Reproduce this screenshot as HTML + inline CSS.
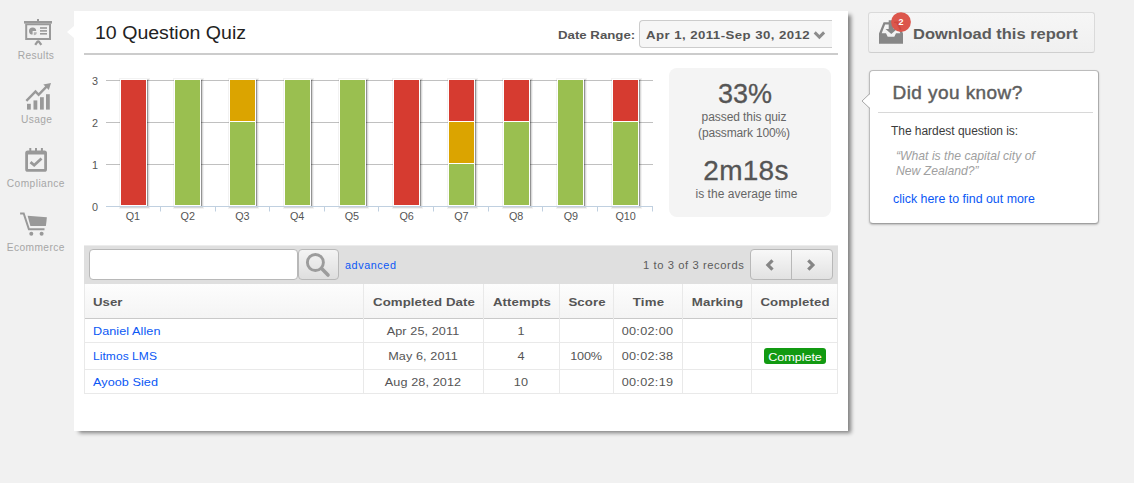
<!DOCTYPE html>
<html>
<head>
<meta charset="utf-8">
<title>10 Question Quiz</title>
<style>
*{box-sizing:border-box;margin:0;padding:0}
html,body{width:1134px;height:483px;overflow:hidden}
body{background:#f1f1f1;font-family:"Liberation Sans",sans-serif;position:relative;color:#555}
.t{position:absolute;white-space:nowrap;line-height:1}
a{text-decoration:none;color:#0b58f5}

/* sidebar */
.nav{position:absolute;color:#a6a6a6;font-size:10.2px;letter-spacing:.36px}

/* main panel */
#panel{position:absolute;left:74px;top:11px;width:774px;height:420px;background:#fff;box-shadow:4px 3px 4px -1px rgba(0,0,0,.47)}
#notch{position:absolute;left:67px;top:25.5px;width:0;height:0;border-top:6.5px solid transparent;border-bottom:6.5px solid transparent;border-right:7px solid #fff}
#hr{position:absolute;left:84px;top:53px;width:754px;height:2px;background:#ccc}
#title{left:95px;top:24px;font-size:18px;color:#222;transform:scaleX(1.086);transform-origin:0 0}

#dr-l{font-weight:bold;font-size:11.5px;color:#555;transform:scaleX(1.15);transform-origin:0 0}
#dr-box{position:absolute;left:639px;top:20px;width:193px;height:28px;background:#f6f6f6;border:1px solid #ccc;border-right:none;border-radius:4px 0 0 4px}
#dr-v{font-weight:bold;font-size:11.5px;color:#555;transform:scaleX(1.15);transform-origin:0 0}

/* stats */
#stats{position:absolute;left:669px;top:68px;width:162px;height:149px;background:#f4f4f4;border-radius:8px}
.big{font-size:28px;color:#555;-webkit-text-stroke:.3px #555}
.sm{font-size:12px;color:#666;letter-spacing:-.08px}

/* toolbar */
#tb{position:absolute;left:84px;top:245px;width:754px;height:39px;background:#dfdfdf;border-top:1px solid #ececec}
#inp{position:absolute;left:89px;top:249px;width:208.5px;height:31px;background:#fff;border:1px solid #b8b8b8;border-radius:4px}
#sbtn{position:absolute;left:297.5px;top:249px;width:41.5px;height:31px;border:1px solid #b8b8b8;border-radius:4px;background:linear-gradient(#f4f4f4,#dedede)}
.pg{position:absolute;top:249px;height:31px;border:1px solid #b8b8b8;background:linear-gradient(#f8f8f8,#e2e2e2)}
#pg1{left:750px;width:42px;border-radius:4px 0 0 4px}
#pg2{left:791px;width:42px;border-radius:0 4px 4px 0}

/* table */
#thead{position:absolute;left:84px;top:284px;width:754px;height:34px;background:linear-gradient(#fdfdfd,#f4f4f4);border-left:1px solid #e2e2e2;border-right:1px solid #e2e2e2}
.hl{position:absolute;left:84px;width:754px;height:1px;background:#e9e9e9}
.vl{position:absolute;top:284px;width:1px;height:110px;background:#e9e9e9}
.th{font-weight:bold;font-size:11.5px;color:#555;transform:scaleX(1.15);transform-origin:50% 0;letter-spacing:.08px}
.td{font-size:11.5px;color:#555;transform:scaleX(1.1);transform-origin:50% 0}
.lnk{font-size:11.5px;color:#0b58f5;transform:scaleX(1.1);transform-origin:0 0}
#badge{position:absolute;left:764px;top:348px;width:62px;height:16px;background:#129a12;border-radius:3px}

.c{text-align:center}
.td{letter-spacing:.08px}
.tm{letter-spacing:.27px}
.lnk{letter-spacing:.05px}
/* right column */
#dl{position:absolute;left:868px;top:12px;width:227px;height:40.5px;background:linear-gradient(#f6f6f6,#f0f0f0);border:1px solid #dadada;border-bottom-color:#cfcfcf;border-radius:3px}
#dyk{position:absolute;left:869px;top:70px;width:230px;height:154px;background:#fff;border:1px solid #bcbcbc;border-right-color:#ababab;border-bottom-color:#a0a0a0;border-radius:4px;box-shadow:0 1px 2px rgba(0,0,0,.22)}
#dyk-hr{position:absolute;left:878px;top:112px;width:215px;height:1px;background:#d8d8d8}
</style>
</head>
<body>

<!-- ============ SIDEBAR ============ -->
<svg style="position:absolute;left:0;top:0" width="75" height="260" viewBox="0 0 75 260">
<!-- results: presentation board -->
<g fill="#999" stroke="none">
<rect x="37" y="19" width="2" height="2.5"/>
<rect x="24" y="21" width="28" height="2.6"/>
<path fill-rule="evenodd" d="M25.2 23.5h25.8v16.5h-25.8zM27.2 25.3v12.7h21.8v-12.7z"/>
<path d="M36.2 31A3.6 3.6 0 1 0 32.6 34.6V31z"/>
<path d="M33.8 32.2h3a3 3 0 0 1 -3 3z" opacity=".7"/>
<rect x="40" y="27.2" width="7" height="1.6"/>
<rect x="40" y="30.1" width="7" height="1.6"/>
<rect x="40" y="33" width="7" height="1.6"/>
</g>
<path d="M35.2 44.9L37.3 41.9Q38.2 41 39.1 41.9L41.3 44.9" fill="none" stroke="#999" stroke-width="2.3"/>
<!-- usage: bars + arrow -->
<g fill="#999">
<rect x="27" y="103.8" width="3.8" height="5.8"/>
<rect x="33.5" y="100.4" width="3.8" height="9.2"/>
<rect x="40" y="97.2" width="3.8" height="12.4"/>
<rect x="46" y="94.2" width="3.8" height="15.4"/>
<path d="M51 83l-2.2 7-1.9-1.9-8.3 8.3-3.1-3.1-8.3 8.4-1.7-1.7 10-10.2 3.1 3.1 6.6-6.6-1.9-1.9z"/>
</g>
<!-- compliance: calendar check -->
<g fill="none" stroke="#999">
<rect x="26.6" y="152" width="19" height="18.4" rx="1.2" stroke-width="2.8"/><path d="M26 153.2h20.2" stroke-width="2.6"/>
<path d="M30.3 148v5.2M36 148v5.2M41.9 148v5.2" stroke-width="2"/>
<path d="M30.5 162.1l3.7 3.1 7.3-6.8" stroke-width="2.8"/>
</g>
<!-- ecommerce: cart -->
<g fill="#999" stroke="none">
<path d="M27.6 215.8l19.3 1.5-1 8.6h-15.5z"/>
<circle cx="31.3" cy="233.8" r="2"/>
<circle cx="41.6" cy="233.8" r="2"/>
</g>
<path d="M20.1 213.5h3.6l5.2 15.7h15.6" fill="none" stroke="#999" stroke-width="2"/>
</svg>
<span class="t nav" id="n1" style="left:17.8px;top:51px">Results</span>
<span class="t nav" id="n2" style="left:21px;top:115px">Usage</span>
<span class="t nav" id="n3" style="left:6.8px;top:179px;letter-spacing:.43px">Compliance</span>
<span class="t nav" id="n4" style="left:6.8px;top:243px;letter-spacing:.4px">Ecommerce</span>

<!-- ============ MAIN PANEL ============ -->
<div id="panel"></div>
<div id="notch"></div>
<span class="t" id="title" >10 Question Quiz</span>
<span class="t" id="dr-l" style="left:557.5px;top:30px;letter-spacing:0">Date Range:</span>
<div id="dr-box"></div>
<span class="t" id="dr-v" style="left:645.5px;top:30px;letter-spacing:.38px">Apr 1, 2011-Sep 30, 2012</span>
<svg style="position:absolute;left:811px;top:29px" width="16" height="13" viewBox="811 29 16 13"><path d="M814.7 32.4l4.7 4.7 4.7-4.7" fill="none" stroke="#8c8c8c" stroke-width="2.9"/></svg>
<div id="hr"></div>

<!-- chart placeholder -->
<svg id="chart" style="position:absolute;left:84px;top:60px" width="580" height="175" viewBox="84 60 580 175">
<style>.ax{font-family:"Liberation Sans",sans-serif;font-size:10.8px;fill:#555}</style>
<path d="M106 164.5H653" stroke="#c0c0c0"/>
<path d="M106 122.5H653" stroke="#c0c0c0"/>
<path d="M106 80.5H653" stroke="#c0c0c0"/>
<g fill="none" stroke="#000" transform="translate(1,1)"><rect x="120.5" y="79.5" width="26" height="126.0" stroke-width="5" opacity=".05"/><rect x="120.5" y="79.5" width="26" height="126.0" stroke-width="3" opacity=".1"/><rect x="120.5" y="79.5" width="26" height="126.0" stroke-width="1" opacity=".32"/></g>
<rect x="120.5" y="79.5" width="26" height="126.0" fill="#d63b30" stroke="#fff"/>
<g fill="none" stroke="#000" transform="translate(1,1)"><rect x="174.5" y="79.5" width="26" height="126.0" stroke-width="5" opacity=".05"/><rect x="174.5" y="79.5" width="26" height="126.0" stroke-width="3" opacity=".1"/><rect x="174.5" y="79.5" width="26" height="126.0" stroke-width="1" opacity=".32"/></g>
<rect x="174.5" y="79.5" width="26" height="126.0" fill="#9abf50" stroke="#fff"/>
<g fill="none" stroke="#000" transform="translate(1,1)"><rect x="229.5" y="79.5" width="26" height="126.0" stroke-width="5" opacity=".05"/><rect x="229.5" y="79.5" width="26" height="126.0" stroke-width="3" opacity=".1"/><rect x="229.5" y="79.5" width="26" height="126.0" stroke-width="1" opacity=".32"/></g>
<rect x="229.5" y="121.5" width="26" height="84.0" fill="#9abf50" stroke="#fff"/>
<rect x="229.5" y="79.5" width="26" height="42.0" fill="#dba400" stroke="#fff"/>
<g fill="none" stroke="#000" transform="translate(1,1)"><rect x="284.5" y="79.5" width="26" height="126.0" stroke-width="5" opacity=".05"/><rect x="284.5" y="79.5" width="26" height="126.0" stroke-width="3" opacity=".1"/><rect x="284.5" y="79.5" width="26" height="126.0" stroke-width="1" opacity=".32"/></g>
<rect x="284.5" y="79.5" width="26" height="126.0" fill="#9abf50" stroke="#fff"/>
<g fill="none" stroke="#000" transform="translate(1,1)"><rect x="339.5" y="79.5" width="26" height="126.0" stroke-width="5" opacity=".05"/><rect x="339.5" y="79.5" width="26" height="126.0" stroke-width="3" opacity=".1"/><rect x="339.5" y="79.5" width="26" height="126.0" stroke-width="1" opacity=".32"/></g>
<rect x="339.5" y="79.5" width="26" height="126.0" fill="#9abf50" stroke="#fff"/>
<g fill="none" stroke="#000" transform="translate(1,1)"><rect x="393.5" y="79.5" width="26" height="126.0" stroke-width="5" opacity=".05"/><rect x="393.5" y="79.5" width="26" height="126.0" stroke-width="3" opacity=".1"/><rect x="393.5" y="79.5" width="26" height="126.0" stroke-width="1" opacity=".32"/></g>
<rect x="393.5" y="79.5" width="26" height="126.0" fill="#d63b30" stroke="#fff"/>
<g fill="none" stroke="#000" transform="translate(1,1)"><rect x="448.5" y="79.5" width="26" height="126.0" stroke-width="5" opacity=".05"/><rect x="448.5" y="79.5" width="26" height="126.0" stroke-width="3" opacity=".1"/><rect x="448.5" y="79.5" width="26" height="126.0" stroke-width="1" opacity=".32"/></g>
<rect x="448.5" y="163.5" width="26" height="42.0" fill="#9abf50" stroke="#fff"/>
<rect x="448.5" y="121.5" width="26" height="42.0" fill="#dba400" stroke="#fff"/>
<rect x="448.5" y="79.5" width="26" height="42.0" fill="#d63b30" stroke="#fff"/>
<g fill="none" stroke="#000" transform="translate(1,1)"><rect x="503.5" y="79.5" width="26" height="126.0" stroke-width="5" opacity=".05"/><rect x="503.5" y="79.5" width="26" height="126.0" stroke-width="3" opacity=".1"/><rect x="503.5" y="79.5" width="26" height="126.0" stroke-width="1" opacity=".32"/></g>
<rect x="503.5" y="121.5" width="26" height="84.0" fill="#9abf50" stroke="#fff"/>
<rect x="503.5" y="79.5" width="26" height="42.0" fill="#d63b30" stroke="#fff"/>
<g fill="none" stroke="#000" transform="translate(1,1)"><rect x="557.5" y="79.5" width="26" height="126.0" stroke-width="5" opacity=".05"/><rect x="557.5" y="79.5" width="26" height="126.0" stroke-width="3" opacity=".1"/><rect x="557.5" y="79.5" width="26" height="126.0" stroke-width="1" opacity=".32"/></g>
<rect x="557.5" y="79.5" width="26" height="126.0" fill="#9abf50" stroke="#fff"/>
<g fill="none" stroke="#000" transform="translate(1,1)"><rect x="612.5" y="79.5" width="26" height="126.0" stroke-width="5" opacity=".05"/><rect x="612.5" y="79.5" width="26" height="126.0" stroke-width="3" opacity=".1"/><rect x="612.5" y="79.5" width="26" height="126.0" stroke-width="1" opacity=".32"/></g>
<rect x="612.5" y="121.5" width="26" height="84.0" fill="#9abf50" stroke="#fff"/>
<rect x="612.5" y="79.5" width="26" height="42.0" fill="#d63b30" stroke="#fff"/>
<path d="M106 206.5H653" stroke="#c0d0e0"/>
<path d="M160.5 206.5v5" stroke="#c0d0e0"/>
<path d="M215.5 206.5v5" stroke="#c0d0e0"/>
<path d="M269.5 206.5v5" stroke="#c0d0e0"/>
<path d="M324.5 206.5v5" stroke="#c0d0e0"/>
<path d="M378.5 206.5v5" stroke="#c0d0e0"/>
<path d="M433.5 206.5v5" stroke="#c0d0e0"/>
<path d="M488.5 206.5v5" stroke="#c0d0e0"/>
<path d="M542.5 206.5v5" stroke="#c0d0e0"/>
<path d="M597.5 206.5v5" stroke="#c0d0e0"/>
<path d="M652.5 206.5v5" stroke="#c0d0e0"/>
<text x="98" y="210.5" text-anchor="end" class="ax">0</text>
<text x="98" y="168.5" text-anchor="end" class="ax">1</text>
<text x="98" y="126.5" text-anchor="end" class="ax">2</text>
<text x="98" y="84.5" text-anchor="end" class="ax">3</text>
<text x="132.9" y="219.5" text-anchor="middle" class="ax">Q1</text>
<text x="187.7" y="219.5" text-anchor="middle" class="ax">Q2</text>
<text x="242.4" y="219.5" text-anchor="middle" class="ax">Q3</text>
<text x="297.1" y="219.5" text-anchor="middle" class="ax">Q4</text>
<text x="351.9" y="219.5" text-anchor="middle" class="ax">Q5</text>
<text x="406.6" y="219.5" text-anchor="middle" class="ax">Q6</text>
<text x="461.4" y="219.5" text-anchor="middle" class="ax">Q7</text>
<text x="516.1" y="219.5" text-anchor="middle" class="ax">Q8</text>
<text x="570.9" y="219.5" text-anchor="middle" class="ax">Q9</text>
<text x="625.6" y="219.5" text-anchor="middle" class="ax">Q10</text>
</svg>

<!-- stats -->
<div id="stats"></div>
<span class="t big c" id="s1" style="left:668px;width:154px;top:81px;font-size:27px">33%</span>
<span class="t sm c" id="s2" style="left:667px;width:154px;top:111px">passed this quiz</span>
<span class="t sm c" id="s3" style="left:667px;width:154px;top:126.5px;letter-spacing:-.15px">(passmark 100%)</span>
<span class="t big c" id="s4" style="left:669px;width:154px;top:156.6px;letter-spacing:.25px">2m18s</span>
<span class="t sm c" id="s5" style="left:669.5px;width:154px;top:187.6px;letter-spacing:.03px">is the average time</span>

<!-- toolbar -->
<div id="tb"></div>
<div id="inp"></div>
<div id="sbtn"></div>
<svg style="position:absolute;left:300px;top:251px" width="36" height="28" viewBox="300 251 36 28"><circle cx="315.4" cy="262.5" r="8" fill="none" stroke="#9c9c9c" stroke-width="2.9"/><path d="M321.6 268.6l6.4 6.4" stroke="#9c9c9c" stroke-width="3.6" stroke-linecap="round"/></svg>
<a class="t" id="adv" style="left:344.6px;top:261px;font-size:10px;letter-spacing:.54px;transform:scaleX(1.08);transform-origin:0 0">advanced</a>
<span class="t td" id="rec" style="left:643px;top:261px;font-size:10.2px;letter-spacing:.53px;transform-origin:0 0;color:#5c5c5c">1 to 3 of 3 records</span>
<div class="pg" id="pg1"></div>
<div class="pg" id="pg2"></div>
<svg style="position:absolute;left:760px;top:256px" width="62" height="18" viewBox="760 256 62 18"><path d="M772.5 260.3l-4.6 4.7 4.6 4.7M808.3 260.3l4.6 4.7-4.6 4.7" fill="none" stroke="#858585" stroke-width="3.2"/></svg>

<!-- table -->
<div id="thead"></div>
<div class="hl" style="top:318px;background:#c9c9c9"></div>
<div class="hl" style="top:342px"></div>
<div class="hl" style="top:369px"></div>
<div class="hl" style="top:393px"></div>
<div class="vl" style="left:84px"></div>
<div class="vl" style="left:363px"></div>
<div class="vl" style="left:483px"></div>
<div class="vl" style="left:559px"></div>
<div class="vl" style="left:613px"></div>
<div class="vl" style="left:682px"></div>
<div class="vl" style="left:751px"></div>
<div class="vl" style="left:837px"></div>

<span class="t th" id="h0" style="left:92.8px;top:297px;transform-origin:0 0;letter-spacing:.02px">User</span>
<span class="t th c" id="h1" style="left:363.5px;width:120px;top:297px">Completed Date</span>
<span class="t th c" id="h2" style="left:483.5px;width:76px;top:297px">Attempts</span>
<span class="t th c" id="h3" style="left:559.5px;width:54px;top:297px">Score</span>
<span class="t th c" id="h4" style="left:613.5px;width:69px;top:297px;letter-spacing:.19px">Time</span>
<span class="t th c" id="h5" style="left:682.5px;width:69px;top:297px">Marking</span>
<span class="t th c" id="h6" style="left:751.5px;width:86px;top:297px">Completed</span>

<a class="t lnk" id="r1u" style="left:92.7px;top:326px">Daniel Allen</a>
<span class="t td c" id="r1d" style="left:363px;width:120px;top:326px">Apr 25, 2011</span>
<span class="t td c" id="r1a" style="left:483px;width:76px;top:326px">1</span>
<span class="t td c tm" id="r1t" style="left:613px;width:69px;top:326px">00:02:00</span>

<a class="t lnk" id="r2u" style="left:92.7px;top:351px;transform:scaleX(1.045)">Litmos LMS</a>
<span class="t td c" id="r2d" style="left:363px;width:120px;top:351px">May 6, 2011</span>
<span class="t td c" id="r2a" style="left:483px;width:76px;top:351px">4</span>
<span class="t td c" id="r2s" style="left:559px;width:54px;top:351px;letter-spacing:-.2px">100%</span>
<span class="t td c tm" id="r2t" style="left:613px;width:69px;top:351px">00:02:38</span>
<div id="badge"></div>
<span class="t c" id="r2c" style="left:764px;width:62px;top:352px;font-size:11.5px;color:#fff;letter-spacing:-.06px;transform:scaleX(1.1)">Complete</span>

<a class="t lnk" id="r3u" style="left:92.7px;top:377px">Ayoob Sied</a>
<span class="t td c" id="r3d" style="left:363px;width:120px;top:377px">Aug 28, 2012</span>
<span class="t td c" id="r3a" style="left:483px;width:76px;top:377px">10</span>
<span class="t td c tm" id="r3t" style="left:613px;width:69px;top:377px">00:02:19</span>

<!-- ============ RIGHT COLUMN ============ -->
<div id="dl"></div>
<span class="t" id="dlt" style="left:913px;top:27px;font-size:14.5px;font-weight:bold;color:#5c5c5c;transform:scaleX(1.136);transform-origin:0 0">Download this report</span>
<svg style="position:absolute;left:876px;top:10px" width="38" height="36" viewBox="876 10 38 36">
<g fill="#878787"><path fill-rule="evenodd" d="M879 33.4L883.6 22.3H898.4L903 33.4V43.7H879ZM881.7 33.2H886L887.7 36.7H894.3L896 33.2H900.3L896.9 24.4H885.1Z"/>
<path d="M888.7 20.2h5v8.8h3.4l-5.8 5-5.8-5h3.2z"/></g>
<circle cx="901" cy="22.1" r="9.9" fill="#dc564c"/>
<path d="M894.5 21.5h3.4l3.6 7.8-1.6 1-3.7-7.4h-2.2z" fill="#c9453c" opacity=".8"/>
<text x="901.1" y="25.2" text-anchor="middle" font-family="Liberation Sans, sans-serif" font-size="9" font-weight="bold" fill="#fff">2</text>
</svg>
<div id="dyk"></div>
<svg style="position:absolute;left:860px;top:90px" width="12" height="22" viewBox="860 90 12 22"><path d="M870.8 93.2l-8.6 7.8 8.6 7.8z" fill="#fff"/><path d="M870 93.4l-8 7.6 8 7.6" fill="none" stroke="#a9a9a9" stroke-width="1"/></svg>
<div id="dyk-hr"></div>
<span class="t" id="k1" style="left:892.5px;top:83px;font-size:19px;color:#5e5e5e;-webkit-text-stroke:.45px #5e5e5e;letter-spacing:.43px">Did you know?</span>
<span class="t" id="k2" style="left:891px;top:125px;font-size:12px;color:#3c3c3c;letter-spacing:-.04px">The hardest question is:</span>
<span class="t" id="k3" style="left:896px;top:150px;font-size:12.2px;font-style:italic;color:#a0a0a0">“What is the capital city of</span>
<span class="t" id="k4" style="left:896px;top:165.4px;font-size:12.2px;font-style:italic;color:#a0a0a0">New Zealand?”</span>
<a class="t" id="k5" style="left:893px;top:193px;font-size:12.4px">click here to find out more</a>

</body>
</html>
